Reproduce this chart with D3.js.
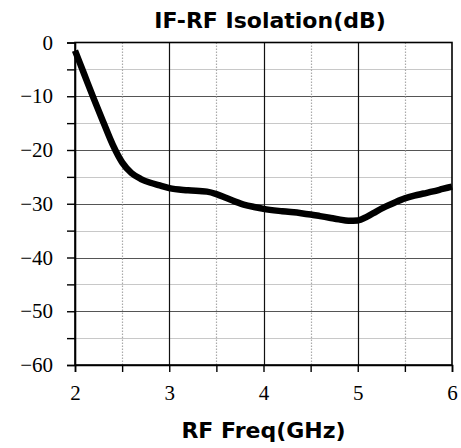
<!DOCTYPE html>
<html>
<head>
<meta charset="utf-8">
<script src="https://cdn.jsdelivr.net/npm/d3@7"></script>
<style>
  html, body { margin: 0; padding: 0; background: #fff; }
  svg { display: block; }
</style>
</head>
<body>
<svg id="chart" width="461" height="448"></svg>
<script>
// IF-RF isolation vs RF frequency
const freqGHz = [2.0, 2.1, 2.2, 2.3, 2.4, 2.5, 2.6, 2.7, 2.8, 2.9, 3.0, 3.2, 3.4, 3.5, 3.6, 3.7, 3.8, 3.9,
                 4.0, 4.2, 4.4, 4.5, 4.6, 4.7, 4.8, 4.9, 5.0, 5.1, 5.2, 5.3, 5.4, 5.5, 5.6, 5.7, 5.8, 5.9, 6.0];
const isolationDb = [-1.5, -6.0, -10.5, -14.8, -19.0, -22.3, -24.3, -25.4, -26.1, -26.6, -27.1, -27.5, -27.75, -28.2, -28.9, -29.6, -30.2, -30.6,
                     -30.95, -31.4, -31.75, -32.0, -32.3, -32.6, -32.9, -33.15, -33.1, -32.4, -31.4, -30.5, -29.7, -29.0, -28.5, -28.1, -27.7, -27.25, -26.8];
const xMajorTicks = [2, 3, 4, 5, 6];
const xMinorTicks = [2.5, 3.5, 4.5, 5.5];
const yMajorTicks = [0, -10, -20, -30, -40, -50, -60];
const yMinorTicks = [-5, -15, -25, -35, -45, -55];
const titleText = "IF-RF Isolation(dB)";
const xLabelText = "RF Freq(GHz)";

(function () {
  const svg = d3.select("#chart");
  const plotL = 75, plotR = 452, plotT = 42.5, plotB = 365;

  const x = d3.scaleLinear().domain([2, 6]).range([plotL, plotR]);
  const y = d3.scaleLinear().domain([-60, 0]).range([plotB, plotT]);

  const fmt = d => (d < 0 ? "\u2212" + Math.abs(d) : String(d));

  // horizontal grid
  svg.append("g").selectAll("line").data(yMinorTicks).join("line")
    .attr("x1", plotL).attr("x2", plotR)
    .attr("y1", d => Math.round(y(d)) + 0.5).attr("y2", d => Math.round(y(d)) + 0.5)
    .attr("stroke", "#c8c8c8").attr("stroke-width", 1.2);
  svg.append("g").selectAll("line").data(yMajorTicks.filter(d => d !== 0 && d !== -60)).join("line")
    .attr("x1", plotL).attr("x2", plotR)
    .attr("y1", d => Math.round(y(d)) + 0.5).attr("y2", d => Math.round(y(d)) + 0.5)
    .attr("stroke", "#555").attr("stroke-width", 1.2);

  // vertical grid
  svg.append("g").selectAll("line").data(xMinorTicks).join("line")
    .attr("y1", plotT).attr("y2", plotB)
    .attr("x1", d => Math.round(x(d)) + 0.5).attr("x2", d => Math.round(x(d)) + 0.5)
    .attr("stroke", "#aaa").attr("stroke-width", 1.2).attr("stroke-dasharray", "1.5,1.5");
  svg.append("g").selectAll("line").data(xMajorTicks.filter(d => d !== 2 && d !== 6)).join("line")
    .attr("y1", plotT).attr("y2", plotB)
    .attr("x1", d => Math.round(x(d)) + 0.5).attr("x2", d => Math.round(x(d)) + 0.5)
    .attr("stroke", "#111").attr("stroke-width", 1.2);

  // frame
  svg.append("rect")
    .attr("x", plotL).attr("y", plotT).attr("width", plotR - plotL).attr("height", plotB - plotT)
    .attr("fill", "none").attr("stroke", "#000").attr("stroke-width", 1.6);

  // axes
  const yAxis = d3.axisLeft(y).tickValues(yMajorTicks.concat(yMinorTicks))
    .tickSize(8).tickPadding(14)
    .tickFormat(d => (yMajorTicks.includes(d) ? fmt(d) : ""));
  const gy = svg.append("g").attr("transform", `translate(${plotL},0)`).call(yAxis);

  const xAxis = d3.axisBottom(x).tickValues(xMajorTicks.concat(xMinorTicks))
    .tickSize(7).tickPadding(13)
    .tickFormat(d => (xMajorTicks.includes(d) ? fmt(d) : ""));
  const gx = svg.append("g").attr("transform", `translate(0,${plotB})`).call(xAxis);

  [gx, gy].forEach(g => {
    g.attr("font-family", "'Liberation Serif', 'DejaVu Serif', serif").attr("font-size", 21);
    g.select(".domain").attr("stroke", "#000").attr("stroke-width", 1.6);
    g.selectAll(".tick line").attr("stroke", "#000").attr("stroke-width", 1.4);
    g.selectAll(".tick text")
      .style("font-family", "'Liberation Serif', 'DejaVu Serif', serif")
      .style("font-size", "21px").attr("fill", "#000");
  });

  // curve
  const line = d3.line()
    .x((d, i) => x(freqGHz[i]))
    .y(d => y(d))
    .curve(d3.curveMonotoneX);
  svg.append("path")
    .datum(isolationDb)
    .attr("d", line)
    .attr("fill", "none").attr("stroke", "#000")
    .attr("stroke-width", 6.5).attr("stroke-linejoin", "round").attr("stroke-linecap", "butt");

  // titles
  svg.append("text")
    .attr("x", 270).attr("y", 28)
    .attr("text-anchor", "middle")
    .attr("font-family", "'DejaVu Sans', Verdana, sans-serif")
    .attr("font-weight", "bold").attr("font-size", 22)
    .text(titleText);
  svg.append("text")
    .attr("x", (plotL + plotR) / 2).attr("y", 438)
    .attr("text-anchor", "middle")
    .attr("font-family", "'DejaVu Sans', Verdana, sans-serif")
    .attr("font-weight", "bold").attr("font-size", 22)
    .text(xLabelText);
})();
</script>
</body>
</html>
